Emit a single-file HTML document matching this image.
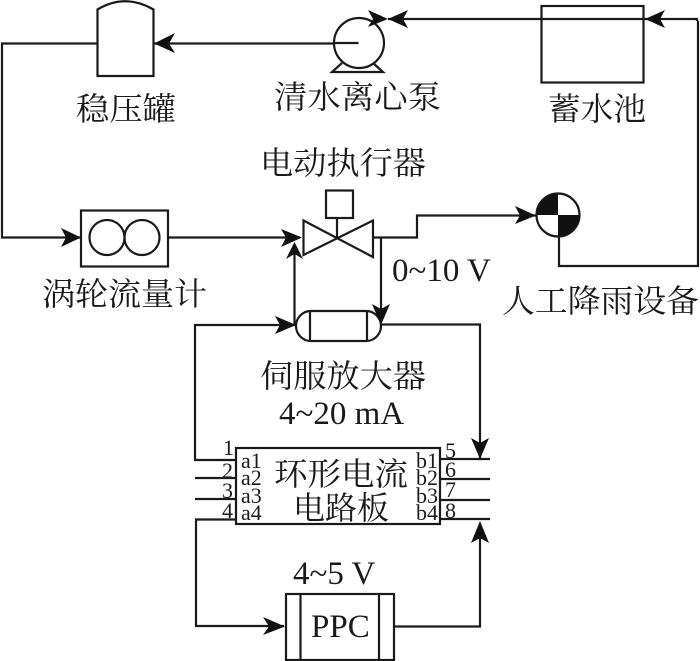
<!DOCTYPE html>
<html><head><meta charset="utf-8">
<style>
html,body{margin:0;padding:0;background:#fff;width:700px;height:661px;overflow:hidden}
svg{display:block}
text{fill:#1a1a1a}
.c{font-family:"Liberation Serif","Noto Serif CJK SC",serif;font-size:32px}
.l{font-family:"Liberation Serif",serif;font-size:33px}
.s{font-family:"Liberation Serif",serif;font-size:22px}
</style></head><body>
<svg width="700" height="661" viewBox="0 0 700 661" xmlns="http://www.w3.org/2000/svg">
<g fill="none" stroke="#1a1a1a" stroke-width="2.2">
<!-- tank -->
<path d="M97.500 9.500Q125 -7 153.500 9.500V76H97.500Z"/>
<path d="M97 43.500H2V237.500H81"/>
<path d="M334 43.500H154"/>
<!-- pump -->
<circle cx="359" cy="43" r="25"/>
<path d="M334 43H358.500"/>
<path d="M342 63L332 72H383L373 63"/>
<!-- reservoir -->
<rect x="541.500" y="6" width="102" height="76.500"/>
<path d="M388 19H688"/>
<path d="M688 19H697V21M698 21V266H559V236"/>
<!-- flowmeter -->
<rect x="81" y="210.500" width="87" height="56"/>
<circle cx="107" cy="237.500" r="17.500"/>
<circle cx="142" cy="237.500" r="17.500"/>
<path d="M168 237.500H300"/>
<!-- valve -->
<path d="M303.500 220.500L373 257V220.500L303.500 255Z"/>
<rect x="326" y="190.500" width="27" height="27.500"/>
<path d="M337 218V238"/>
<path d="M373 237.500H417V215.500H536"/>
<!-- rain device -->
<circle cx="558" cy="215" r="21.500"/>
<!-- servo amp -->
<rect x="296" y="311" width="85" height="30" rx="15" ry="15"/>
<path d="M310 311V341M367 311V341"/>
<path d="M294.500 325V245M381 238V322"/>
<path d="M296 325H195V460H236"/>
<path d="M381 324.500H480V459"/>
<!-- board -->
<rect x="236" y="448" width="204" height="76"/>
<path d="M195 478H236M195 499H236M236 519.500H196V626H284"/>
<path d="M440 459H490M440 479H490M440 500H490M440 519H490"/>
<!-- PPC -->
<rect x="286" y="594" width="108" height="66"/>
<path d="M300.500 594V660M379 594V660"/>
<path d="M394 626.500H480V525"/>
</g>
<!-- quarters -->
<path d="M558 215V194A21 21 0 0 0 537 215ZM558 215V236A21 21 0 0 0 579 215Z" fill="#111"/>
<!-- arrowheads -->
<g fill="#111">
<path d="M154 43.500L175 33L169 43.500L175 53Z"/>
<path d="M388 19L368 10L373 19L368 27Z"/>
<path d="M388 19L408 10L403 19L408 28Z"/>
<path d="M645 19L665 10L660 19L665 28Z"/>
<path d="M81 237.500L61 228L66 237.500L61 247Z"/>
<path d="M302 237.500L281 229L286 237.500L281 247Z"/>
<path d="M536 215.500L515 206L520 215.500L515 224Z"/>
<path d="M294.500 242L286 259L294.500 254L303 259Z"/>
<path d="M296 325L275 316L280 325L275 334Z"/>
<path d="M381 325L372 304L381 309L390 304Z"/>
<path d="M480 459L471 438L480 443L489 438Z"/>
<path d="M480 521L471 543L480 538L489 543Z"/>
<path d="M285 626.500L263 617L269 626.500L263 635Z"/>
</g>
<!-- labels -->
<text class="c" x="76" y="120" textLength="100" lengthAdjust="spacingAndGlyphs">稳压罐</text>
<text class="c" x="274" y="108" textLength="167" lengthAdjust="spacingAndGlyphs">清水离心泵</text>
<text class="c" x="548" y="120" textLength="98" lengthAdjust="spacingAndGlyphs">蓄水池</text>
<text class="c" x="260" y="174" textLength="166" lengthAdjust="spacingAndGlyphs">电动执行器</text>
<text class="c" x="42" y="305" textLength="165" lengthAdjust="spacingAndGlyphs">涡轮流量计</text>
<text class="c" x="502" y="312" textLength="197" lengthAdjust="spacingAndGlyphs">人工降雨设备</text>
<text class="c" x="260" y="387" textLength="166" lengthAdjust="spacingAndGlyphs">伺服放大器</text>
<text class="l" x="392" y="281">0~10 V</text>
<text class="l" x="279" y="424">4~20 mA</text>
<text class="l" x="293" y="584">4~5 V</text>
<text class="l" x="311" y="637">PPC</text>
<text class="c" x="274" y="485" textLength="134" lengthAdjust="spacingAndGlyphs">环形电流</text>
<text class="c" x="293" y="519" textLength="96" lengthAdjust="spacingAndGlyphs">电路板</text>
<text class="s" x="223" y="455">1</text>
<text class="s" x="222" y="478">2</text>
<text class="s" x="222" y="498">3</text>
<text class="s" x="222" y="518">4</text>
<text class="s" x="241" y="468">a1</text>
<text class="s" x="241" y="485">a2</text>
<text class="s" x="241" y="503">a3</text>
<text class="s" x="241" y="520">a4</text>
<text class="s" x="416" y="468">b1</text>
<text class="s" x="416" y="485">b2</text>
<text class="s" x="416" y="503">b3</text>
<text class="s" x="416" y="520">b4</text>
<text class="s" x="445" y="458">5</text>
<text class="s" x="445" y="477">6</text>
<text class="s" x="445" y="497">7</text>
<text class="s" x="445" y="518">8</text>
</svg>
</body></html>
